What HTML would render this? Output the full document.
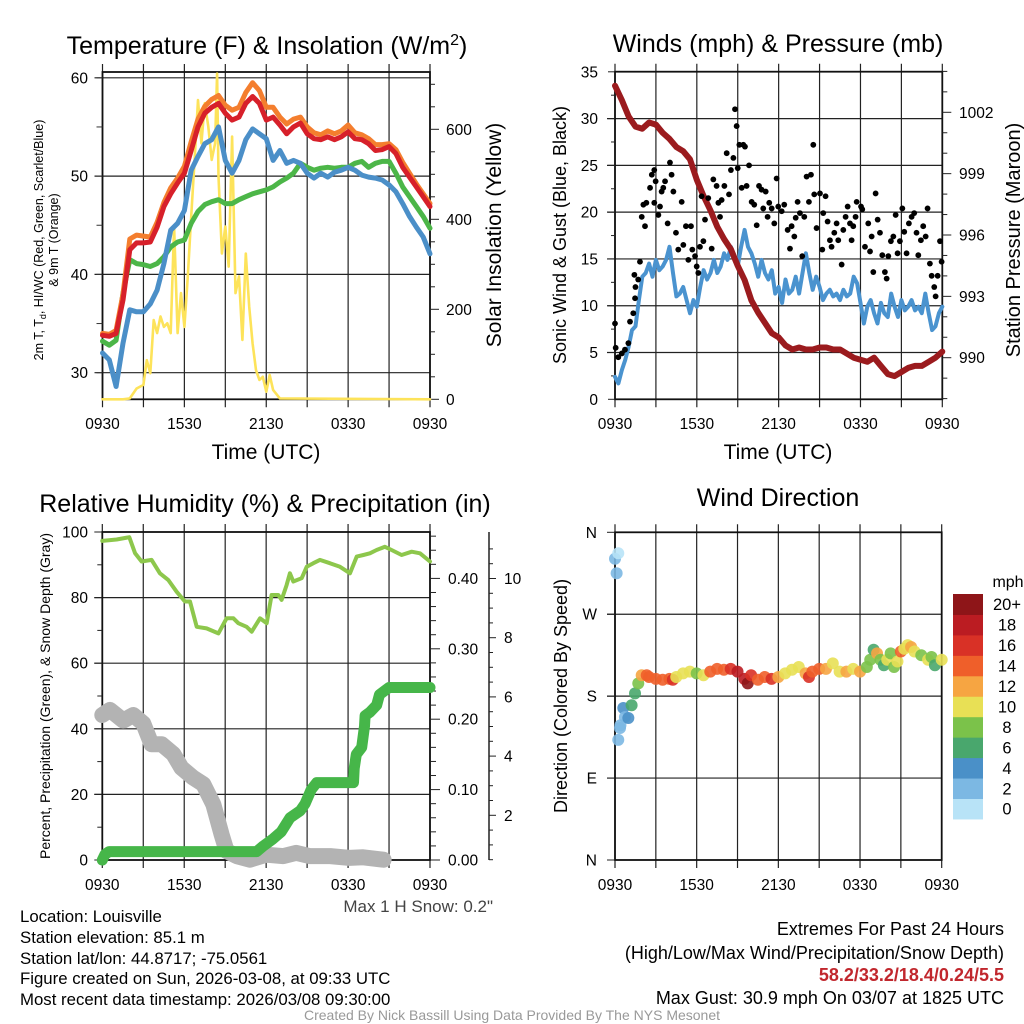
<!DOCTYPE html>
<html><head><meta charset="utf-8"><style>
html,body{margin:0;padding:0;background:#fff;}
svg{display:block;font-family:"Liberation Sans",Arial,sans-serif;}
</style></head><body>
<svg id="fig" width="1024" height="1024" viewBox="0 0 1024 1024" xmlns="http://www.w3.org/2000/svg">
<rect x="0" y="0" width="1024" height="1024" fill="#fff"/>
<g id="p1"></g>
<g id="p2"></g>
<g id="p3"></g>
<g id="p4"></g>

<text x="267" y="54" font-size="25" text-anchor="middle">Temperature (F) &amp; Insolation (W/m<tspan dy="-9" font-size="16">2</tspan><tspan dy="9">)</tspan></text>
<text x="778" y="52" font-size="25" text-anchor="middle">Winds (mph) &amp; Pressure (mb)</text>
<text x="265" y="512" font-size="25" text-anchor="middle">Relative Humidity (%) &amp; Precipitation (in)</text>
<text x="778" y="506" font-size="25" text-anchor="middle">Wind Direction</text>

<text x="266" y="459" font-size="21" text-anchor="middle">Time (UTC)</text>
<text x="778" y="459" font-size="21" text-anchor="middle">Time (UTC)</text>

<text transform="translate(43,240) rotate(-90)" font-size="12.5" text-anchor="middle">2m T, T<tspan dy="3" font-size="9">d</tspan><tspan dy="-3">, HI/WC (Red, Green, Scarlet/Blue)</tspan></text>
<text transform="translate(58,240) rotate(-90)" font-size="12.5" text-anchor="middle">&amp; 9m T (Orange)</text>
<text transform="translate(501,235) rotate(-90)" font-size="21" text-anchor="middle">Solar Insolation (Yellow)</text>
<text transform="translate(566,235) rotate(-90)" font-size="18" text-anchor="middle">Sonic Wind &amp; Gust (Blue, Black)</text>
<text transform="translate(1020,240) rotate(-90)" font-size="20" text-anchor="middle">Station Pressure (Maroon)</text>
<text transform="translate(50,696) rotate(-90)" font-size="14" text-anchor="middle">Percent, Precipitation (Green), &amp; Snow Depth (Gray)</text>
<text transform="translate(567,696) rotate(-90)" font-size="18" text-anchor="middle">Direction (Colored By Speed)</text>

<text x="493" y="912" font-size="17" fill="#444" text-anchor="end">Max 1 H Snow: 0.2"</text>
<g font-size="16.8">
<text x="20" y="922">Location: Louisville</text>
<text x="20" y="943">Station elevation: 85.1 m</text>
<text x="20" y="964">Station lat/lon: 44.8717; -75.0561</text>
<text x="20" y="984">Figure created on Sun, 2026-03-08, at 09:33 UTC</text>
<text x="20" y="1005">Most recent data timestamp: 2026/03/08 09:30:00</text>
</g>
<g font-size="18" text-anchor="end">
<text x="1004" y="935">Extremes For Past 24 Hours</text>
<text x="1004" y="959">(High/Low/Max Wind/Precipitation/Snow Depth)</text>
<text x="1004" y="981" fill="#c1272d" font-weight="bold">58.2/33.2/18.4/0.24/5.5</text>
<text x="1004" y="1004">Max Gust: 30.9 mph On 03/07 at 1825 UTC</text>
</g>
<text x="512" y="1020" font-size="14" fill="#999" text-anchor="middle">Created By Nick Bassill Using Data Provided By The NYS Mesonet</text>
</svg>
<script>
const xTickLabels = ["0930","1530","2130","0330","0930"];
// temperature panel (half-hour samples)
const tempRed = [33.8,33.7,34.0,37.4,42.5,43.2,43.2,43.3,44.8,46.9,48.2,49.3,50.3,52.6,55.0,56.4,57.0,57.4,56.4,55.7,56.0,57.4,58.1,57.4,55.7,56.0,55.2,54.3,55.0,55.4,54.3,53.8,53.7,54.0,53.7,54.0,54.5,53.8,53.7,53.3,52.6,52.7,53.0,52.3,50.9,49.9,48.9,47.9,46.9];
const tempOrange = [34.0,33.9,34.3,38.0,43.6,44.0,43.9,43.8,45.3,47.3,48.8,49.8,51.0,53.5,55.8,57.1,57.8,58.2,57.2,56.7,57.0,58.5,59.5,58.7,57.0,57.0,56.0,55.3,55.8,56.0,55.0,54.4,54.2,54.6,54.3,54.6,55.2,54.4,54.2,53.8,53.2,53.2,53.3,52.7,51.4,50.3,49.2,48.2,47.2];
const dewGreen = [33.2,32.8,33.3,38.1,41.5,41.1,41.0,40.8,41.1,41.8,42.8,43.3,43.5,45.2,46.4,47.1,47.4,47.6,47.2,47.2,47.6,47.9,48.2,48.4,48.6,48.9,49.4,49.8,50.3,51.3,50.9,50.6,50.8,50.9,50.8,50.9,50.9,51.3,51.5,50.9,51.3,51.5,51.5,50.3,48.9,47.9,46.9,45.9,44.7];
const hiwcBlue = [32.0,31.3,28.6,33.0,36.4,36.2,36.2,37.0,38.4,41.1,44.5,45.2,46.5,50.6,52.0,53.3,53.7,55.0,51.6,50.3,51.6,53.7,54.8,54.3,53.8,51.6,52.6,51.3,51.6,51.3,50.3,49.8,50.3,49.9,50.4,50.6,50.9,50.6,50.1,49.9,49.8,49.6,49.1,48.4,47.2,45.9,44.8,43.8,42.1];
const solarHours = [0,1.5,2,2.5,3,3.25,3.5,3.75,4,4.25,4.5,4.75,5,5.25,5.5,5.75,6,6.25,6.5,6.75,7,7.25,7.5,7.75,8,8.25,8.4,8.5,8.75,9,9.25,9.5,9.75,10,10.25,10.5,10.75,11,11.25,11.5,11.75,12,12.25,12.5,13,24];
const solarVals = [0,0,2,24,32,87,58,176,147,184,161,169,147,384,147,236,161,273,406,532,665,569,658,606,532,569,724,495,324,384,295,584,236,273,132,324,206,124,65,43,50,17,54,21,2,0];
const tempTicks = [30,40,50,60];
const solarTicks = [0,200,400,600];
// wind panel
const sonicWind = [2.4,1.7,3.1,4.2,5.6,7.4,7.8,10.6,13.1,13.5,14.5,13.1,14.9,13.8,14.2,14.9,16.3,13.5,11,11.3,12,10.6,9.2,10.6,9.9,12,13.8,12.8,13.5,14.9,13.5,14.2,15.6,14.9,16.3,15.3,14.2,16.3,18.1,16.3,15.6,14.5,13.1,14.9,13.5,12.8,13.8,11.3,12,10.3,12.8,11.3,11.7,13.1,11.3,13.5,15.6,13.5,11.7,13.1,12,10.6,11.3,11.7,11,11.3,10.6,11.7,11,11.3,13.1,12.4,10.3,8.1,9.9,10.6,9.2,8.1,10.3,9.2,8.8,11.3,9.9,8.8,10.6,9.5,9.9,10.6,9.5,9.9,9.2,11.3,9.2,7.4,7.8,9.2,9.9];
const pressure = [1003.3,1002.6,1001.8,1001.3,1001.2,1001.5,1001.4,1001.0,1000.7,1000.3,1000.1,999.7,998.7,997.9,997.2,996.4,995.8,995.3,994.5,993.8,992.8,992.2,991.7,991.2,991.0,990.6,990.4,990.5,990.4,990.4,990.5,990.5,990.4,990.4,990.2,990.0,989.9,989.8,990.0,989.6,989.2,989.1,989.3,989.5,989.6,989.6,989.8,990.0,990.3];
const gustHours = [0,0.05,0.24,0.5,0.73,0.98,1.1,1.34,1.47,1.5,1.7,1.42,1.83,1.96,2.08,2.2,2.3,2.57,2.7,2.88,2.98,2.88,3.18,3.3,3.42,3.54,3.67,3.86,4.03,4.15,4.28,4.47,4.64,4.89,5.01,5.2,5.38,5.57,5.67,5.87,5.99,6.11,6.23,6.35,6.48,6.6,6.84,7.09,7.21,7.45,7.58,7.7,7.82,8.02,8.19,8.36,8.5,8.68,8.8,8.92,9.0,9.12,9.29,9.41,9.53,9.65,9.83,10.02,10.21,10.39,10.56,10.75,10.87,11.05,11.19,11.31,11.49,11.68,11.85,11.97,12.22,12.41,12.66,12.83,12.95,13.15,13.25,13.39,13.56,13.73,13.88,14.05,14.22,14.37,14.54,14.61,14.78,15.03,15.2,15.27,15.44,15.59,15.76,15.88,16.08,16.25,16.37,16.62,16.74,16.91,17.06,17.23,17.35,17.47,17.64,17.72,18.04,18.13,18.33,18.57,18.7,18.82,18.94,19.11,19.26,19.43,19.6,19.79,19.92,20.04,20.23,20.41,20.58,20.72,20.89,21.07,21.21,21.38,21.55,21.75,21.94,22.11,22.24,22.43,22.6,22.78,22.92,23.09,23.22,23.41,23.51,23.66,23.83,23.95];
const gustVals = [8.1,5.5,4.5,4.9,5.3,6,8.3,9.2,10.8,12,12.8,13.3,14.7,19.5,20.8,18.5,21,22.6,24,24.5,23.3,21,19.7,20.6,22.2,22.6,23.3,18.8,25.3,24,22.2,17.8,16,21.1,16.5,18.5,14.9,18.5,16,15.3,14.2,13.5,16.3,21.7,16.9,19.2,21.5,16.1,23.5,22.8,21,19.5,21.3,22.8,26.3,21.9,24.5,25.8,31,29.2,24.7,27.2,22.6,27.2,27,22.8,25,21.1,20.8,18.6,22.8,22.4,20.4,22.2,19.5,21,20.4,18.8,23.6,20.6,20.1,20.8,18.1,16.1,18.5,17.4,19.4,21.1,19.9,15.3,19.5,23.8,21.1,24,27.2,21.9,18.3,22,16,19.9,21.7,19,17,16.3,17.8,18.8,17,14.4,18.1,19.5,20.6,18.8,17,18.5,19.5,21.1,20.6,20.3,16.3,18.8,15.8,17.4,13.6,22,19.2,17.8,15.4,13.6,12.9,15.3,16.9,17.4,19.7,15.6,16.9,20.4,17.9,15.6,18.8,19.5,19.9,17.8,15.4,17,18.5,17.4,20.4,14.5,13.2,12,11,13.2,16.9,14.7];
const windTicks = [0,5,10,15,20,25,30,35];
const pressTicks = [990,993,996,999,1002];
// humidity panel
const rhHours = [0,1.05,1.98,2.4,2.88,3.61,4.22,4.83,5.44,6.05,6.42,6.91,7.64,8.5,9.1,9.6,9.96,10.57,10.94,11.55,12.04,12.4,12.89,13.13,13.5,13.74,13.99,14.6,14.97,15.45,15.94,16.67,17.41,18.14,18.63,19.12,19.6,20.09,20.7,21.19,21.92,22.66,23.27,24];
const rhVals = [97.3,97.7,98.4,93.5,91,91.5,87.4,85.4,81.8,78.8,78.8,71.1,70.6,69.1,73.7,73.7,72.2,71.1,69.6,73.7,72.2,80.8,80.8,79.3,83.8,87.4,84.9,85.9,89.4,90.5,91.5,90.5,89.4,87.4,92.5,93,93.5,94.5,95.5,94.5,93,94,93.5,91];
const precipHours = [0,0.2,0.5,11.3,11.8,12.5,13.1,13.75,14.5,14.85,15.3,15.7,18.4,18.45,18.6,19,19.2,19.25,19.6,20.1,20.3,21,24];
const precipVals = [0,0.008,0.012,0.012,0.02,0.03,0.04,0.06,0.07,0.08,0.1,0.11,0.11,0.13,0.15,0.16,0.19,0.205,0.21,0.22,0.235,0.245,0.245];
const snowHours = [0,0.56,1.54,2.27,3,3.6,4.35,5.2,5.8,6.66,7.4,8.13,8.74,9.1,9.84,10.8,12,13.25,14.2,15.2,16.7,18.1,19.1,20.6];
const snowVals = [5.39,5.56,5.2,5.39,5.1,4.4,4.4,4.07,3.6,3.27,3.05,2.37,1.35,0.79,0.62,0.5,0.67,0.62,0.73,0.62,0.62,0.56,0.58,0.5];
const rhTicks = [0,20,40,60,80,100];
const precipTicks = [0,0.1,0.2,0.3,0.4];
const snowTicks = [2,4,6,8,10];
// direction panel
const dirHours = [0,0.24,0.12,0.24,0.37,0.4,0.61,0.73,0.98,1.22,1.47,1.71,1.96,2.33,2.5,3,3.5,4,4.25,4.5,5,5.5,6,6.5,7,7.5,8,8.5,9,9.5,9.75,10,10.5,11,11.5,12,12.5,13,13.5,14,14.25,14.5,15,15.5,16,16.5,17,17.5,18,18.5,18.75,19,19.25,19.5,19.75,20,20.25,20.5,20.75,21,21.25,21.5,21.75,22,22.5,23,23.25,23.5,24];
const dirDeg = [331,337,315,132,145,148,167,157,156,170,183,194,203,203,201,199,198,199,198,201,205,207,205,203,207,210,209,210,207,199,194,203,198,201,199,201,205,209,212,205,201,207,210,210,216,207,207,210,207,212,220,231,227,220,214,220,227,212,218,229,232,236,234,229,225,220,223,214,220];
const dirSpeed = [3,1,3,2,2,3,4,3,4,6,7,8,12,14,14,14,15,14,16,11,10,10,9,11,14,15,14,16,18,19,20,16,15,15,16,13,11,10,10,12,17,15,14,12,10,10,12,11,12,9,8,7,13,9,7,10,9,8,10,15,11,10,13,11,9,10,8,7,10];
const dirTickLabels = ["N","E","S","W","N"];
const speedLabels = ["0","2","4","6","8","10","12","14","16","18","20+"];
const speedColors = ["#b8e3f7","#7cb8e3","#4a90c8","#49a76d","#7bc24a","#e8e055","#f6a542","#ef5f2a","#d93126","#bb1c22","#8e1518"];

const NS="http://www.w3.org/2000/svg";
const TF=15.5;
function mk(parent,tag,attrs){const e=document.createElementNS(NS,tag);for(const k in attrs)e.setAttribute(k,attrs[k]);parent.appendChild(e);return e;}
function poly(parent,xs,ys,fx,fy,color,w){const pts=xs.map((h,i)=>fx(h).toFixed(1)+","+fy(ys[i]).toFixed(1)).join(" ");return mk(parent,"polyline",{points:pts,fill:"none",stroke:color,"stroke-width":w,"stroke-linejoin":"round","stroke-linecap":"round"});}
function frame(g,L,R,T,B,hLines){
  const grid=mk(g,"g",{stroke:"#222","stroke-width":1.2});
  
  
  for(let i=0;i<=8;i++){const x=L+(R-L)*i/8;mk(grid,"line",{x1:x,x2:x,y1:T-8,y2:B+8});}
  hLines.forEach(y=>mk(grid,"line",{x1:L-8,x2:R,y1:y,y2:y}));
  const box=mk(g,"rect",{x:L,y:T,width:R-L,height:B-T,fill:"none",stroke:"#111","stroke-width":1.8});
  
  
}
function xLabels(g,L,R,y){xTickLabels.forEach((s,i)=>{const t=mk(g,"text",{x:L+(R-L)*i/4,y:y,"font-size":TF,"text-anchor":"middle"});t.textContent=s;
  
  });}

// ---------- Panel 1 ----------
(function(){
  const g=document.getElementById("p1");const L=102.5,R=430,T=72,B=399.3;
  const fx=h=>L+(R-L)*h/24, fy=v=>372.7-(v-30)*9.83, fs=v=>399.3-v*0.45;
  frame(g,L,R,T,B,tempTicks.map(fy));
  for(let v=30;v<=60;v+=5) mk(g,"line",{x1:L-6,x2:L,y1:fy(v),y2:fy(v),stroke:"#333"});
  tempTicks.forEach(v=>{const t=mk(g,"text",{x:88,y:fy(v)+5.5,"font-size":TF,"text-anchor":"end"});t.textContent=v;
    
    });
  for(let v=0;v<=700;v+=50){mk(g,"line",{x1:R,x2:R+(v%200===0?9:5),y1:fs(v),y2:fs(v),stroke:"#222"});}
  solarTicks.forEach(v=>{const t=mk(g,"text",{x:446,y:fs(v)+5.5,"font-size":TF});t.textContent=v;
    
    });
  xLabels(g,L,R,429);
  const hh=tempRed.map((_,i)=>i*0.5);
  const s1=poly(g,solarHours,solarVals,fx,fs,"#fde35a",2.6);
  
  
  const s2=poly(g,hh,dewGreen,fx,fy,"#4cb648",5);
  
  
  const s3=poly(g,hh,tempOrange,fx,fy,"#f47e2e",5);
  
  
  const s4=poly(g,hh,tempRed,fx,fy,"#d7202a",5);
  
  
  const s5=poly(g,hh,hiwcBlue,fx,fy,"#4b8fc8",5);
  
  
})();

// ---------- Panel 2 ----------
(function(){
  const g=document.getElementById("p2");const L=615,R=942.3,T=71.7,B=399.3;
  const fx=h=>L+(R-L)*h/24, fy=v=>399.3-v*9.357, fp=p=>357.7-(p-990)*20.45;
  frame(g,L,R,T,B,windTicks.slice(1,7).map(fy));
  windTicks.forEach(v=>{mk(g,"line",{x1:L-7,x2:L,y1:fy(v),y2:fy(v),stroke:"#222"});
    const t=mk(g,"text",{x:598,y:fy(v)+5.5,"font-size":TF,"text-anchor":"end"});t.textContent=v;
    
    });
  for(let v=2.5;v<35;v+=5) mk(g,"line",{x1:L-4,x2:L,y1:fy(v),y2:fy(v),stroke:"#222"});
  for(let p=988;p<=1004;p++){const y=fp(p);if(y<T-1||y>B+1)continue;mk(g,"line",{x1:R,x2:R+((p-990)%3===0?9:5),y1:y,y2:y,stroke:"#222"});}
  pressTicks.forEach(p=>{const t=mk(g,"text",{x:959,y:fp(p)+5.5,"font-size":TF});t.textContent=p;
    
    });
  xLabels(g,L,R,429);
  const wl=poly(g,sonicWind.map((_,i)=>i*0.25),sonicWind,fx,fy,"#4a93cf",4);
  
  
  const pl=poly(g,pressure.map((_,i)=>i*0.5),pressure,fx,fp,"#9b1b1e",6);
  
  
  const gg=mk(g,"g",{fill:"#000"});
  
  
  gustHours.forEach((h,i)=>{const c=mk(gg,"circle",{cx:fx(h),cy:fy(gustVals[i]),r:2.9});
    
    });
})();

// ---------- Panel 3 ----------
(function(){
  const g=document.getElementById("p3");const L=102.3,R=430,T=532,B=860;
  const fx=h=>L+(R-L)*h/24, fy=v=>860-v*3.28, fpr=v=>860-v*704, fsn=v=>874.5-v*29.6;
  frame(g,L,R,T,B,[20,40,60,80].map(fy));
  for(let v=0;v<=100;v+=10) mk(g,"line",{x1:L-(v%20===0?8:5),x2:L,y1:fy(v),y2:fy(v),stroke:"#222"});
  rhTicks.forEach(v=>{const t=mk(g,"text",{x:88,y:fy(v)+5.5,"font-size":TF,"text-anchor":"end"});t.textContent=v;
    
    });
  for(let i=0;i<=23;i++){const v=i*0.02;const y=fpr(v);if(y<T)continue;mk(g,"line",{x1:R,x2:R+(i%5===0?10:6),y1:y,y2:y,stroke:"#222"});}
  precipTicks.forEach(v=>{const t=mk(g,"text",{x:448,y:fpr(v)+5.5,"font-size":TF});t.textContent=v.toFixed(2);
    
    });
  const sp=mk(g,"line",{x1:489,x2:489,y1:T,y2:B,stroke:"#222","stroke-width":1.5});
  
  
  for(let i=1;i<=22;i++){const v=i*0.5;const y=fsn(v);if(y<T||y>B)continue;mk(g,"line",{x1:489,x2:489+(i%4===0?7:4),y1:y,y2:y,stroke:"#222"});}
  snowTicks.forEach(v=>{const t=mk(g,"text",{x:504,y:fsn(v)+5.5,"font-size":TF});t.textContent=v;
    
    });
  xLabels(g,L,R,890);
  const sn=poly(g,snowHours,snowVals,fx,fsn,"#b3b3b3",16);
  
  
  const pr=poly(g,precipHours,precipVals,fx,fpr,"#46b649",11);
  
  
  const rh=poly(g,rhHours,rhVals,fx,fy,"#8dc74c",4);
  
  
})();

// ---------- Panel 4 ----------
(function(){
  const g=document.getElementById("p4");const L=615,R=941.7,T=532.3,B=860;
  const fx=h=>L+(R-L)*h/24, fy=d=>860-d/360*327.7;
  frame(g,L,R,T,B,[90,180,270].map(fy));
  dirTickLabels.forEach((s,i)=>{const y=fy(i*90);mk(g,"line",{x1:L-8,x2:L,y1:y,y2:y,stroke:"#222"});
    const t=mk(g,"text",{x:597,y:y+5.5,"font-size":TF,"text-anchor":"end"});t.textContent=s;
    
    });
  xLabels(g,L,R,890);
  const dg=mk(g,"g",{});
  
  
  dirHours.forEach((h,i)=>{const ci=Math.min(10,Math.floor(dirSpeed[i]/2));
    const c=mk(dg,"circle",{cx:fx(h),cy:fy(dirDeg[i]),r:6,fill:speedColors[ci],"fill-opacity":0.9});
    
    });
  const cb=mk(g,"g",{});
  
  
  const top=594,bh=20.45;
  speedColors.forEach((c,i)=>{const y=top+(10-i)*bh;
    const r=mk(cb,"rect",{x:953,y:y,width:30,height:bh+0.5,fill:c});
    
    
    const t=mk(cb,"text",{x:1007,y:y+bh/2+6,"font-size":16.5,"text-anchor":"middle"});t.textContent=speedLabels[i];
    
    });
  const u=mk(cb,"text",{x:1008,y:587,"font-size":16,"text-anchor":"middle"});u.textContent="mph";
  
  
})();
</script>
</body></html>
